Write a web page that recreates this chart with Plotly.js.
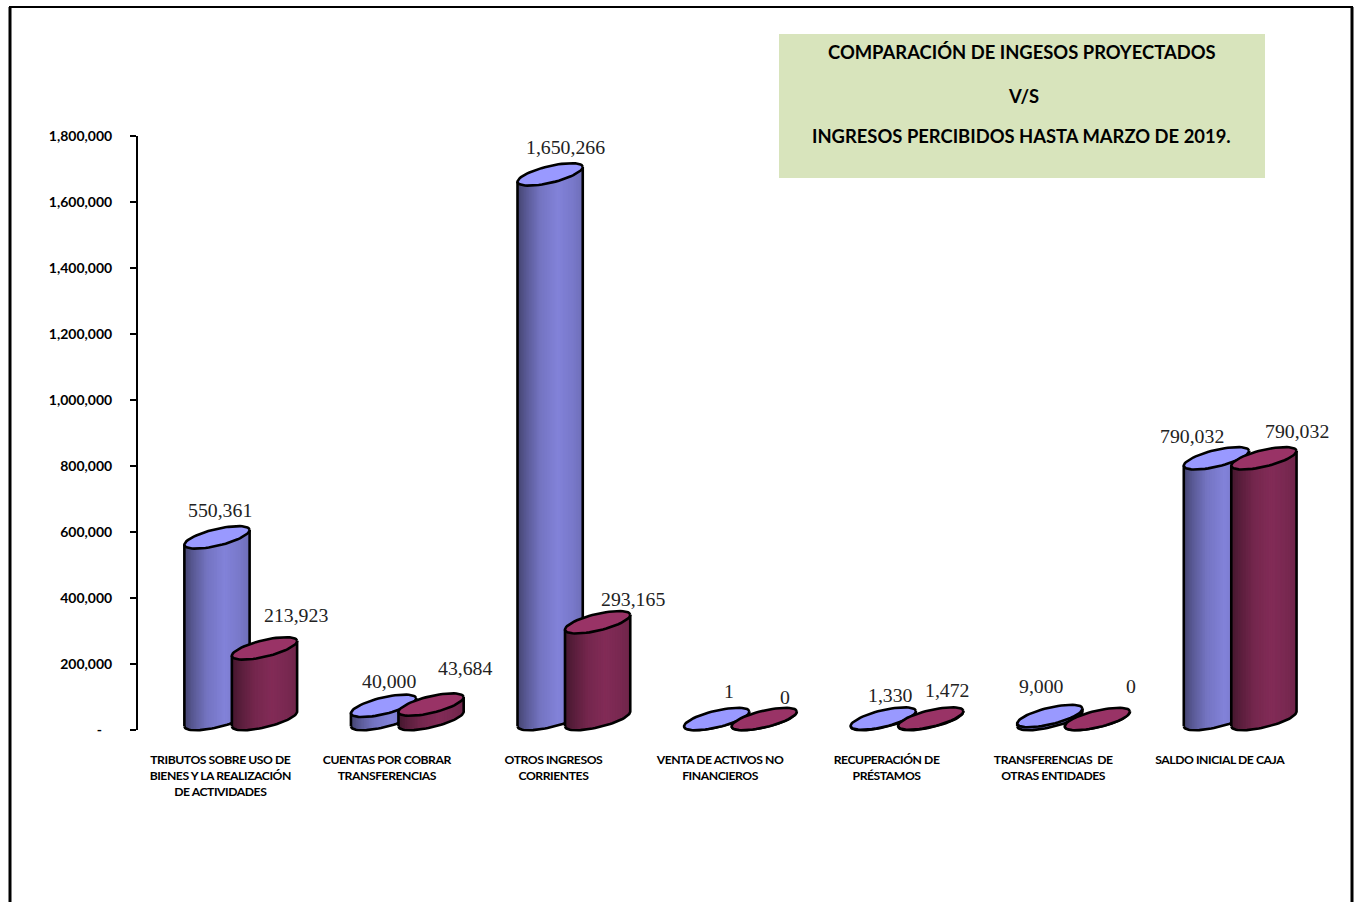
<!DOCTYPE html>
<html><head><meta charset="utf-8">
<script src="https://cdn.plot.ly/plotly-3.0.1.min.js"></script>
<style>html,body{margin:0;padding:0;background:#fff;overflow:hidden}#chart{width:1360px;height:902px}
.xtick text{letter-spacing:-0.45px}</style>
</head><body><div id="chart"></div>
<script>
// ---------- data ----------
const categories = [
  "TRIBUTOS SOBRE USO DE<br>BIENES Y LA REALIZACIÓN<br>DE ACTIVIDADES",
  "CUENTAS POR COBRAR<br>TRANSFERENCIAS",
  "OTROS INGRESOS<br>CORRIENTES",
  "VENTA DE ACTIVOS NO<br>FINANCIEROS",
  "RECUPERACIÓN DE<br>PRÉSTAMOS",
  "TRANSFERENCIAS  DE<br>OTRAS ENTIDADES",
  "SALDO INICIAL DE CAJA"
];
const proyectados = [550361, 40000, 1650266, 1, 1330, 9000, 790032];
const percibidos  = [213923, 43684, 293165, 0, 1472, 0, 790032];
const yTickVals = [0, 200000, 400000, 600000, 800000, 1000000, 1200000, 1400000, 1600000, 1800000];
const yTickText = ["-\u00a0\u00a0\u00a0", "200,000", "400,000", "600,000", "800,000", "1,000,000", "1,200,000", "1,400,000", "1,600,000", "1,800,000"];
const titleLines = ["COMPARACIÓN DE INGESOS PROYECTADOS", "V/S", "INGRESOS PERCIBIDOS HASTA MARZO DE 2019."];

// ---------- layout constants (pixels) ----------
const W = 1360, H = 902;
const plotL = 137, plotR = 1303, plotT = 136, axisB = 730, plotB = 742;
const yMax = 1800000;
const pxX = (plotR - plotL) / 7, pxY = (axisB - plotT) / yMax;
const yMin = -(plotB - axisB) / pxY;
const dx = p => p / pxX;            // px -> x units
const dy = p => p / pxY;            // px -> y units
const paperX = p => (p - plotL) / (plotR - plotL);
const paperY = p => (plotB - p) / (plotB - plotT);

// Oblique cylinder geometry
const A = 33.5, B = 8.3, TH = 13.5 * Math.PI / 180, LIFT = 11;
const ELL_X = t => A * Math.cos(TH) * Math.cos(t) - B * Math.sin(TH) * Math.sin(t);
const ELL_Y = t => A * Math.sin(TH) * Math.cos(t) + B * Math.cos(TH) * Math.sin(t);
const tR = Math.atan2(-B * Math.sin(TH), A * Math.cos(TH));
const HW = ELL_X(tR);
const N = 40;

function lower(s) { return ELL_Y(tR + 2 * Math.PI - Math.acos(Math.min(1, s))); }
function shade(base, p) {
  const stops = [[0, .44], [.12, .57], [.35, .76], [.62, .85], [.85, .79], [1, .72]];
  let f = stops[stops.length - 1][1];
  for (let i = 1; i < stops.length; i++) if (p <= stops[i][0]) {
    const [a, fa] = stops[i - 1], [b, fb] = stops[i];
    f = fa + (fb - fa) * (p - a) / (b - a); break;
  }
  return `rgb(${base.map(c => Math.round(c * f)).join(",")})`;
}

function cylinderTraces(values, offsetPx, base, topColor) {
  const out = [];
  const cx = i => i + 0.5 + dx(offsetPx);
  // gradient strips, one trace per shade; each overlaps the next so no seams show
  for (let k = 0; k < N; k++) {
    const s0 = -1 + 2 * k / N, s1 = Math.min(1, -1 + 2 * (k + 2) / N);
    const xs = [], ys = [];
    values.forEach((v, i) => {
      const c = cx(i);
      const bot0 = dy(LIFT + lower(s0)), bot1 = dy(LIFT + lower(s1));
      const top0 = v + bot0, top1 = v + bot1;
      xs.push(c + dx(HW * s0), c + dx(HW * s1), c + dx(HW * s1), c + dx(HW * s0), c + dx(HW * s0), null);
      ys.push(bot0, bot1, top1, top0, bot0, null);
    });
    const col = shade(base, (k + .5) / N);
    out.push({type: "scatter", mode: "lines", x: xs, y: ys, fill: "toself", fillcolor: col,
      line: {color: col, width: 0}, hoverinfo: "skip", showlegend: false});
  }
  // silhouette outline
  const ox = [], oy = [];
  values.forEach((v, i) => {
    const c = cx(i);
    for (let j = 0; j <= 40; j++) {
      const t = tR + Math.PI + Math.PI * j / 40;
      ox.push(c + dx(ELL_X(t))); oy.push(dy(LIFT + ELL_Y(t)));
    }
    ox.push(c + dx(HW)); oy.push(v + dy(LIFT + ELL_Y(tR)));
    ox.push(null); oy.push(null);
    ox.push(c - dx(HW)); oy.push(v + dy(LIFT - ELL_Y(tR)));
    ox.push(c - dx(HW)); oy.push(dy(LIFT - ELL_Y(tR)));
    ox.push(null); oy.push(null);
  });
  out.push({type: "scatter", mode: "lines", x: ox, y: oy, line: {color: "#000", width: 2.6},
    hoverinfo: "skip", showlegend: false});
  // top ellipses
  const ex = [], ey = [];
  values.forEach((v, i) => {
    const c = cx(i);
    for (let j = 0; j <= 60; j++) {
      const t = 2 * Math.PI * j / 60;
      ex.push(c + dx(ELL_X(t))); ey.push(v + dy(LIFT + ELL_Y(t)));
    }
    ex.push(null); ey.push(null);
  });
  out.push({type: "scatter", mode: "lines", x: ex, y: ey, fill: "toself", fillcolor: topColor,
    line: {color: "#000", width: 2.6}, hoverinfo: "skip", showlegend: false});
  return out;
}

const traces = [
  ...cylinderTraces(proyectados, -3.3, [153, 153, 255], "#9999ff"),
  ...cylinderTraces(percibidos, 44.2, [153, 51, 102], "#993366")
];

// ---------- data labels ----------
const blueShift = [[0, 38], [3, 36], [12, 38], [9, 39], [4, 35], [-12, 41], [-28, 33]];
const redShift  = [[76, 44], [79, 48], [80, 34], [65, 33], [61, 40], [78, 44], [77, 38]];
const fmt = v => v.toLocaleString("en-US");
const labelAnn = (vals, shifts) => vals.map((v, i) => ({
  xref: "x", yref: "y", x: i + 0.5, y: v, text: fmt(v), showarrow: false,
  xshift: shifts[i][0], yshift: shifts[i][1], xanchor: "center", yanchor: "middle",
  font: {family: "Liberation Serif, serif", size: 19.8, color: "#222"}
}));

// ---------- title ----------
const titleY = [52, 96, 136], titleX = [1021.5, 1023.5, 1021];
const titleAnn = titleLines.map((t, i) => ({
  xref: "paper", yref: "paper", x: paperX(titleX[i]), y: paperY(titleY[i]), text: t, showarrow: false,
  xanchor: "center", yanchor: "middle", font: {family: "Lato, sans-serif", size: 18.4, color: "#000", weight: 700}
}));

const frameLine = (x0, y0, x1, y1, w) => ({type: "line", xref: "paper", yref: "paper",
  x0: paperX(x0), y0: paperY(y0), x1: paperX(x1), y1: paperY(y1), line: {color: "#000", width: w}, layer: "below"});

const layout = {
  width: W, height: H, showlegend: false,
  margin: {l: plotL, r: W - plotR, t: plotT, b: H - plotB, pad: 0},
  paper_bgcolor: "#fff", plot_bgcolor: "rgba(0,0,0,0)",
  font: {family: "Lato, sans-serif", color: "#000"},
  xaxis: {range: [0, 7], tickmode: "array", tickvals: categories.map((_, i) => i + 0.5), ticktext: categories,
    showgrid: false, zeroline: false, showline: false, ticks: "", tickangle: 0, ticklabelstandoff: 9,
    tickfont: {family: "Lato, sans-serif", size: 12.2, color: "#000", weight: 700}},
  yaxis: {range: [yMin, yMax], tickmode: "array", tickvals: yTickVals, ticktext: yTickText,
    showgrid: false, zeroline: false, showline: false,
    ticks: "outside", ticklen: 6, tickwidth: 2, tickcolor: "#000", ticklabelstandoff: 15,
    tickfont: {family: "Lato, sans-serif", size: 14, color: "#000", weight: 700}},
  shapes: [
    {type: "rect", xref: "paper", yref: "paper", x0: paperX(779), x1: paperX(1265), y0: paperY(178), y1: paperY(34),
      fillcolor: "#d8e4bc", line: {width: 0}, layer: "below"},
    {type: "line", xref: "paper", yref: "y", x0: 0, x1: 0, y0: 0, y1: yMax, line: {color: "#000", width: 2}, layer: "below"},
    frameLine(10, 7, 10, 902, 3),
    frameLine(9, 7, 1353, 7, 2),
    frameLine(1352, 7, 1352, 902, 3)
  ],
  annotations: [...labelAnn(proyectados, blueShift), ...labelAnn(percibidos, redShift), ...titleAnn]
};

Plotly.newPlot("chart", traces, layout, {displayModeBar: false, staticPlot: true});
</script></body></html>
